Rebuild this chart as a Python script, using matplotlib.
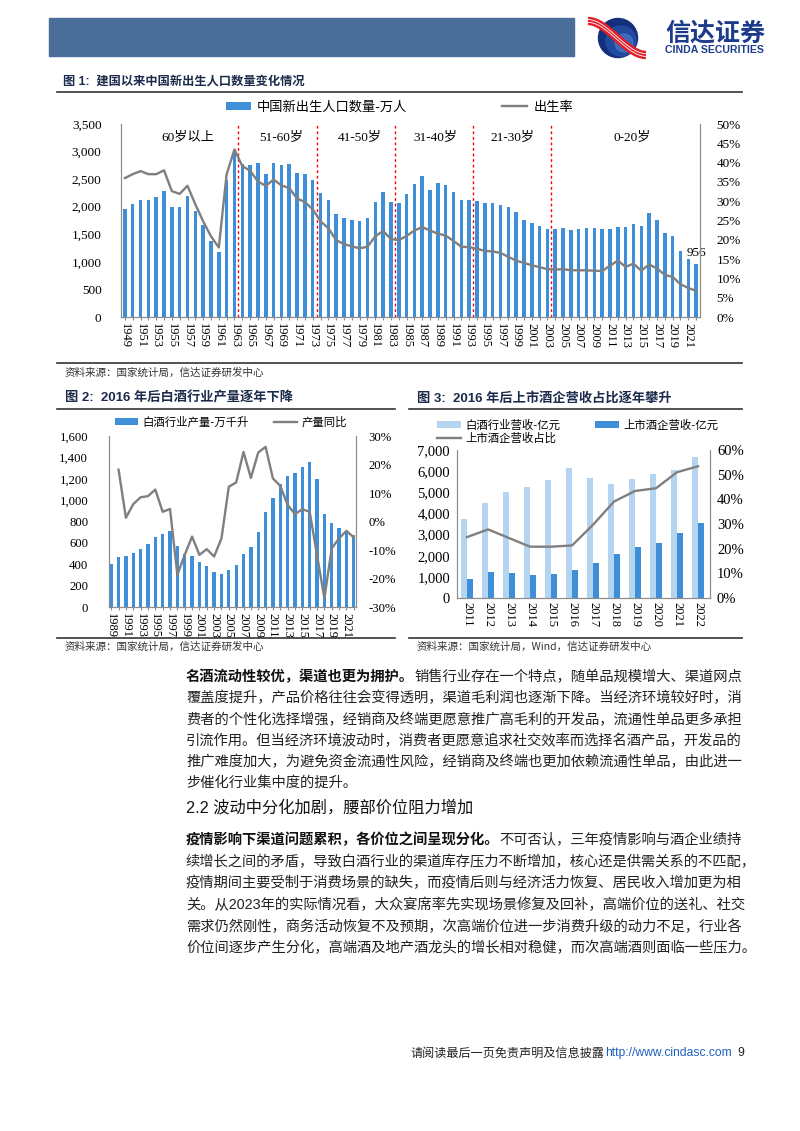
import numpy as np
import matplotlib
matplotlib.use("Agg")
import matplotlib.pyplot as plt
from matplotlib.patches import Rectangle, Circle, Patch
from matplotlib.lines import Line2D
from matplotlib.ticker import FuncFormatter

plt.rcParams['font.family'] = ['Liberation Serif', 'Noto Sans CJK SC']
plt.rcParams['axes.unicode_minus'] = False

# *** 图1 新出生人口 (万人) 与出生率 ***
birth_years = list(range(1949, 2023))
births = [1953, 2044, 2123, 2123, 2172, 2287, 2002, 2002, 2202, 1929, 1662,
          1377, 1183, 2487, 3015, 2772, 2748, 2797, 2596, 2797, 2754,
          2778, 2614, 2602, 2487, 2257, 2123, 1868, 1796, 1753, 1735,
          1796, 2093, 2263, 2081, 2075, 2226, 2414, 2560, 2305, 2439,
          2396, 2263, 2117, 2129, 2105, 2068, 2068, 2038, 1989, 1911,
          1765, 1705, 1644, 1595, 1589, 1614, 1583, 1589, 1607, 1607,
          1589, 1601, 1632, 1638, 1686, 1656, 1887, 1759, 1523, 1462,
          1201, 1055, 956]
birth_rate = [36.0, 37.0, 37.8, 37.0, 37.0, 38.0, 32.6, 31.9, 34.0, 29.2, 24.8,
              20.9, 18.0, 37.0, 43.4, 39.1, 37.9, 35.1, 34.0, 35.6, 34.1,
              33.4, 30.7, 29.8, 27.9, 24.8, 23.0, 19.9, 18.9, 18.3, 17.8,
              18.2, 20.9, 22.3, 20.2, 19.9, 21.0, 22.4, 23.3, 22.4, 21.6,
              21.1, 19.7, 18.2, 18.1, 17.7, 17.1, 17.0, 16.6, 15.6, 14.6,
              14.0, 13.4, 12.9, 12.4, 12.3, 12.4, 12.1, 12.1, 12.1, 12.0,
              11.9, 13.3, 14.6, 13.0, 13.8, 12.0, 13.6, 12.6, 10.9, 10.4,
              8.5, 7.5, 6.8]
age_split = [1963.5, 1973.5, 1983.5, 1993.5, 2003.5]
age_labels = ['60岁以上', '51-60岁', '41-50岁', '31-40岁', '21-30岁', '0-20岁']
age_label_x = [1957, 1969, 1979, 1988.7, 1998.5, 2013.8]

# *** 图2 白酒产量 (万千升) ***
liquor_years = list(range(1989, 2023))
liquor_output = [401, 469, 475, 503, 544, 587, 655, 680, 708, 572,
                 500, 475, 419, 379, 329, 308, 345, 395, 494, 565,
                 705, 888, 1022, 1149, 1224, 1255, 1311, 1354, 1193, 870,
                 783, 736, 715, 671]
yoy_years = list(range(1990, 2023))
liquor_yoy = [18.2, 1.3, 6.1, 8.5, 8.9, 11.2, 3.4, 4.4, -18.7, -11.7,
              -5.3, -11.7, -9.7, -12.3, -5.9, 12.2, 13.7, 24.4, 15.3, 24.2,
              26.2, 15.1, 12.5, 5.8, 2.6, 4.3, 3.4, -11.8, -26.9, -9.4,
              -5.9, -3.3, -5.6]

# *** 图3 营收 (亿元) ***
rev_years = list(range(2011, 2023))
industry_rev = [3744, 4483, 5034, 5270, 5585, 6151, 5663, 5380, 5632, 5852, 6041, 6654]
listed_rev = [912, 1211, 1195, 1085, 1133, 1306, 1652, 2077, 2423, 2596, 3067, 3524]
listed_share = [24.7, 27.8, 24.3, 20.8, 20.8, 21.3, 29.7, 39.1, 43.4, 44.5, 51.0, 53.4]

BLUE = '#3f8fd8'
LIGHT = '#b5d4ef'
GRAY = '#7f7f7f'
SPINE = '#8c8c8c'
NAVY = '#1c2b4b'
CJK = ['Noto Sans CJK SC']
SANS = ['Liberation Sans', 'Noto Sans CJK SC']

W, H = 800, 1131
fig = plt.figure(figsize=(8, 11.31), dpi=100)


def ax_px(x0, y0, x1, y1):
    return fig.add_axes([x0 / W, 1 - y1 / H, (x1 - x0) / W, (y1 - y0) / H])


def tx(x, y, s, **kw):
    return fig.text(x / W, 1 - y / H, s, **kw)


def hline(x0, x1, y, color='#333333', lw=1.0):
    fig.add_artist(Line2D([x0 / W, x1 / W], [1 - y / H, 1 - y / H], color=color, lw=lw))


comma = FuncFormatter(lambda v, p: f'{int(v):,}')
pct = FuncFormatter(lambda v, p: f'{int(v)}%')


def style(ax, axr, fs, lpad, rpad):
    for a in (ax, axr):
        a.spines['top'].set_visible(False)
        for s in a.spines.values():
            s.set_color(SPINE)
            s.set_linewidth(0.8)
    ax.tick_params(axis='y', length=0, pad=lpad, labelsize=fs)
    axr.tick_params(axis='y', length=0, pad=rpad, labelsize=fs)
    ax.tick_params(axis='x', length=2.5, color=SPINE, pad=2)


# ---------------- header ----------------
fig.add_artist(Rectangle((49 / W, 1 - 56 / H), (574 - 49) / W, 38 / H,
                         color='#4a6e99', transform=fig.transFigure))
lg = ax_px(582, 12, 662, 62)
lg.set_xlim(0, 80)
lg.set_ylim(50, 0)
lg.axis('off')
lg.add_patch(Circle((36, 26), 19.5, color='#14307c'))
lg.add_patch(Circle((39, 29), 15, color='#2450a8', alpha=0.8))
lg.add_patch(Circle((42, 31), 9, color='#4f7fd0', alpha=0.6))
t = np.linspace(0, 1, 60)
rx = 6 + 58 * t
ry = 9 + 34 * (3 * t ** 2 - 2 * t ** 3)
lg.plot(rx, ry, color='#e0202a', lw=6, solid_capstyle='butt')
lg.plot(rx, ry - 1.4, color='white', lw=0.6)
lg.plot(rx, ry + 1.4, color='white', lw=0.6)
tx(665, 34, '信达证券', fontsize=18, weight='bold', color='#1d3b8b', family=CJK, va='center')
tx(665, 50, 'CINDA SECURITIES', fontsize=7.6, weight='bold', color='#1d3b8b',
   family=['Liberation Sans'], va='center')

# ---------------- 图1 ----------------
tx(63, 82, '图 1:  建国以来中国新出生人口数量变化情况', fontsize=8.8, weight='bold',
   color=NAVY, family=SANS, va='center')
hline(57, 742, 92, lw=1.2)

ax1 = ax_px(121, 124, 700, 317)
ax1.bar(birth_years, births, width=0.45, color=BLUE, zorder=2)
ax1.set_xlim(1948.5, 2022.5)
ax1.set_ylim(0, 3500)
ax1.set_yticks(range(0, 3501, 500))
ax1.yaxis.set_major_formatter(comma)
ax1.set_xticks(birth_years)
ax1.set_xticklabels([str(y) if (y - 1949) % 2 == 0 else '' for y in birth_years],
                    rotation=-90, fontsize=9)
for xv in age_split:
    ax1.axvline(xv, color='red', lw=1.0, ls=(0, (2, 2)), zorder=3)
for xl, lab in zip(age_label_x, age_labels):
    ax1.text(xl, 3246, lab, ha='center', va='center', fontsize=9.5)
ax1.annotate(str(births[-1]), (birth_years[-1], births[-1]), xytext=(0, 4),
             textcoords='offset points', ha='center', va='bottom', fontsize=9.5)
ax1r = ax1.twinx()
ax1r.plot(birth_years, birth_rate, color=GRAY, lw=1.7, zorder=4)
ax1r.set_ylim(0, 50)
ax1r.set_yticks(range(0, 51, 5))
ax1r.yaxis.set_major_formatter(pct)
style(ax1, ax1r, 9.5, 14, 12)
fig.legend(handles=[Patch(facecolor=BLUE), Line2D([], [], color=GRAY, lw=1.7)],
           labels=['中国新出生人口数量-万人', '出生率'], loc='center left',
           bbox_to_anchor=(226 / W, 1 - 107 / H), ncol=2, frameon=False,
           prop={'family': CJK, 'size': 9.5}, handlelength=1.9, handleheight=0.55,
           handletextpad=0.45, columnspacing=7.2, borderpad=0, borderaxespad=0)
hline(57, 742, 363, lw=1.2)
tx(65, 373, '资料来源：国家统计局，信达证券研发中心', fontsize=7.6, color='#333333',
   family=CJK, va='center', style='italic')

# ---------------- 图2 ----------------
tx(65, 398, '图 2:  2016 年后白酒行业产量逐年下降', fontsize=9.5, weight='bold',
   color=NAVY, family=SANS, va='center')
hline(57, 395, 409, lw=1.2)
ax2 = ax_px(109, 436, 356, 607)
ax2.bar(liquor_years, liquor_output, width=0.45, color=BLUE, zorder=2)
ax2.set_xlim(1988.7, 2022.3)
ax2.set_ylim(0, 1600)
ax2.set_yticks(range(0, 1601, 200))
ax2.yaxis.set_major_formatter(comma)
ax2.set_xticks(liquor_years)
ax2.set_xticklabels([str(y) if (y - 1989) % 2 == 0 else '' for y in liquor_years],
                    rotation=-90, fontsize=9)
ax2r = ax2.twinx()
ax2r.plot(yoy_years, liquor_yoy, color=GRAY, lw=1.7)
ax2r.set_ylim(-30, 30)
ax2r.set_yticks(range(-30, 31, 10))
ax2r.yaxis.set_major_formatter(pct)
style(ax2, ax2r, 9.2, 15, 9)
fig.legend(handles=[Patch(facecolor=BLUE), Line2D([], [], color=GRAY, lw=1.7)],
           labels=['白酒行业产量-万千升', '产量同比'], loc='center left',
           bbox_to_anchor=(115 / W, 1 - 422 / H), ncol=2, frameon=False,
           prop={'family': CJK, 'size': 8.2}, handlelength=2.0, handleheight=0.6,
           handletextpad=0.4, columnspacing=2.2, borderpad=0, borderaxespad=0)
hline(57, 395, 638, lw=1.2)
tx(65, 647, '资料来源：国家统计局，信达证券研发中心', fontsize=7.6, color='#333333',
   family=CJK, va='center')

# ---------------- 图3 ----------------
tx(417, 398, '图 3:  2016 年后上市酒企营收占比逐年攀升', fontsize=9.5, weight='bold',
   color=NAVY, family=SANS, va='center')
hline(409, 742, 409, lw=1.2)
ax3 = ax_px(457, 450, 710, 598)
xi = np.arange(len(rev_years))
ax3.bar(xi - 0.14, industry_rev, width=0.28, color=LIGHT, zorder=2)
ax3.bar(xi + 0.14, listed_rev, width=0.28, color=BLUE, zorder=2)
ax3.set_xlim(-0.48, 11.57)
ax3.set_ylim(0, 7000)
ax3.set_yticks(range(0, 7001, 1000))
ax3.yaxis.set_major_formatter(comma)
ax3.set_xticks(xi)
ax3.set_xticklabels([str(y) for y in rev_years], rotation=-90, fontsize=9)
ax3r = ax3.twinx()
ax3r.plot(xi, listed_share, color=GRAY, lw=1.7)
ax3r.set_ylim(0, 60)
ax3r.set_yticks(range(0, 61, 10))
ax3r.yaxis.set_major_formatter(pct)
style(ax3, ax3r, 10.5, 5, 5)
ax3.tick_params(axis='x', length=0, pad=3)
fig.legend(handles=[Patch(facecolor=LIGHT), Line2D([], [], color=GRAY, lw=1.7),
                    Patch(facecolor=BLUE)],
           labels=['白酒行业营收-亿元', '上市酒企营收占比', '上市酒企营收-亿元'],
           loc='upper left', bbox_to_anchor=(437 / W, 1 - 419 / H), ncol=2,
           frameon=False, prop={'family': CJK, 'size': 8.2}, handlelength=2.1,
           handleheight=0.6, handletextpad=0.4, columnspacing=3.0,
           labelspacing=0.15, borderpad=0, borderaxespad=0)
hline(409, 742, 638, lw=1.2)
tx(417, 647, '资料来源：国家统计局，Wind，信达证券研发中心', fontsize=7.6, color='#333333',
   family=CJK, va='center')

# ---------------- 正文 ----------------
FS = 10.3
X0 = 186
para1 = ['名酒流动性较优，渠道也更为拥护。销售行业存在一个特点，随单品规模增大、渠道网点',
         '覆盖度提升，产品价格往往会变得透明，渠道毛利润也逐渐下降。当经济环境较好时，消',
         '费者的个性化选择增强，经销商及终端更愿意推广高毛利的开发品，流通性单品更多承担',
         '引流作用。但当经济环境波动时，消费者更愿意追求社交效率而选择名酒产品，开发品的',
         '推广难度加大，为避免资金流通性风险，经销商及终端也更加依赖流通性单品，由此进一',
         '步催化行业集中度的提升。']
para2 = ['疫情影响下渠道问题累积，各价位之间呈现分化。不可否认，三年疫情影响与酒企业绩持',
         '续增长之间的矛盾，导致白酒行业的渠道库存压力不断增加，核心还是供需关系的不匹配，',
         '疫情期间主要受制于消费场景的缺失，而疫情后则与经济活力恢复、居民收入增加更为相',
         '关。从2023年的实际情况看，大众宴席率先实现场景修复及回补，高端价位的送礼、社交',
         '需求仍然刚性，商务活动恢复不及预期，次高端价位进一步消费升级的动力不足，行业各',
         '价位间逐步产生分化，高端酒及地产酒龙头的增长相对稳健，而次高端酒则面临一些压力。']
bold1 = 16
bold2 = 22
y1 = [677, 698, 720, 741, 762, 783]
y2 = [840, 862, 883, 905, 927, 948]
renderer = fig.canvas.get_renderer()


def para(lines, ys, nbold):
    for i, (s, y) in enumerate(zip(lines, ys)):
        if i == 0:
            tb = tx(X0, y, s[:nbold], fontsize=FS, weight='bold', color='#111111',
                    family=SANS, va='center')
            wb = tb.get_window_extent(renderer).width
            tx(X0 + wb, y, s[nbold:], fontsize=FS, color='#222222',
               family=SANS, va='center')
        else:
            tx(X0, y, s, fontsize=FS, color='#222222', family=SANS, va='center')


para(para1, y1, bold1)
tx(X0, 808, '2.2 波动中分化加剧，腰部价位阻力增加', fontsize=11.7, color='#111111',
   family=SANS, va='center')
para(para2, y2, bold2)

# ---------------- 页脚 ----------------
tx(410, 1053, '请阅读最后一页免责声明及信息披露', fontsize=8.7, color='#222222',
   family=CJK, va='center')
tx(605, 1053, 'http://www.cindasc.com', fontsize=8.7, color='#2060c0',
   family=['Liberation Sans'], va='center')
tx(737, 1053, '9', fontsize=8.7, color='#222222', family=['Liberation Sans'], va='center')

fig.savefig('out.png', dpi=100)
